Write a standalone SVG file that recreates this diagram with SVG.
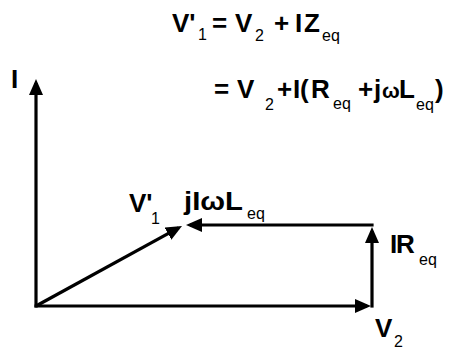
<svg xmlns="http://www.w3.org/2000/svg" width="452" height="349" viewBox="0 0 452 349">
<style>
  .m { font-family: "Liberation Sans", Arial, sans-serif; font-weight: bold; font-size: 26px; fill: #000; }
  .w { font-family: "Liberation Sans", Arial, sans-serif; font-weight: bold; font-size: 21px; fill: #000; }
  .s { font-family: "Liberation Sans", Arial, sans-serif; font-size: 16px; fill: #000; }
  .ln { stroke: #000; stroke-width: 3.2; fill: none; marker-end: url(#ah); }
</style>
<defs>
  <marker id="ah" markerUnits="userSpaceOnUse" markerWidth="16" markerHeight="14" refX="12" refY="7" orient="auto">
    <path d="M0,0 L16,7 L0,14 Z" fill="#000"/>
  </marker>
</defs>
<rect width="452" height="349" fill="#fff"/>

<g id="equation1">
  <text class="m" x="172" y="32">V'</text>
  <text class="s" x="198" y="40">1</text>
  <text class="m" x="212" y="32">=</text>
  <text class="m" x="235" y="32">V</text>
  <text class="s" x="255" y="41">2</text>
  <text class="m" x="274" y="32">+</text>
  <text class="m" x="295" y="32">I</text>
  <text class="m" x="304" y="32">Z</text>
  <text class="s" x="322" y="41">eq</text>
</g>

<g id="equation2">
  <text class="m" x="214" y="98">=</text>
  <text class="m" x="237" y="98">V</text>
  <text class="s" x="265" y="110">2</text>
  <text class="m" x="277" y="98">+</text>
  <text class="m" x="293" y="98">I</text>
  <text class="m" x="300" y="98">(</text>
  <text class="m" x="311" y="98">R</text>
  <text class="s" x="333" y="109">eq</text>
  <text class="m" x="358" y="98">+</text>
  <text class="m" x="374" y="98">j</text>
  <text class="w" x="382" y="98">ω</text>
  <text class="m" x="399" y="98">L</text>
  <text class="s" x="416" y="110">eq</text>
  <text class="m" x="435" y="98">)</text>
</g>

<g id="connectors">
  <path id="axis-I" class="ln" d="M36,307.5 V83"/>
  <path id="V2" class="ln" d="M34.5,306 H367"/>
  <path id="IReq" class="ln" d="M372,307.6 V231"/>
  <path id="jIwLeq" class="ln" d="M373.6,225 H190"/>
  <path id="V1" class="ln" d="M36,306 L178.5,227.9"/>
</g>

<g id="label-I">
  <text class="m" x="11" y="88">I</text>
</g>

<g id="label-V1">
  <text class="m" x="129" y="212">V'</text>
  <text class="s" x="151" y="224">1</text>
</g>

<g id="label-jIwL">
  <text class="m" x="184" y="210" textLength="59" lengthAdjust="spacingAndGlyphs">jIωL</text>
  <text class="s" x="247" y="219">eq</text>
</g>

<g id="label-IR">
  <text class="m" x="390" y="253">I</text>
  <text class="m" x="396" y="253">R</text>
  <text class="s" x="419" y="265">eq</text>
</g>

<g id="label-V2">
  <text class="m" x="375" y="337">V</text>
  <text class="s" x="394" y="347">2</text>
</g>
</svg>
